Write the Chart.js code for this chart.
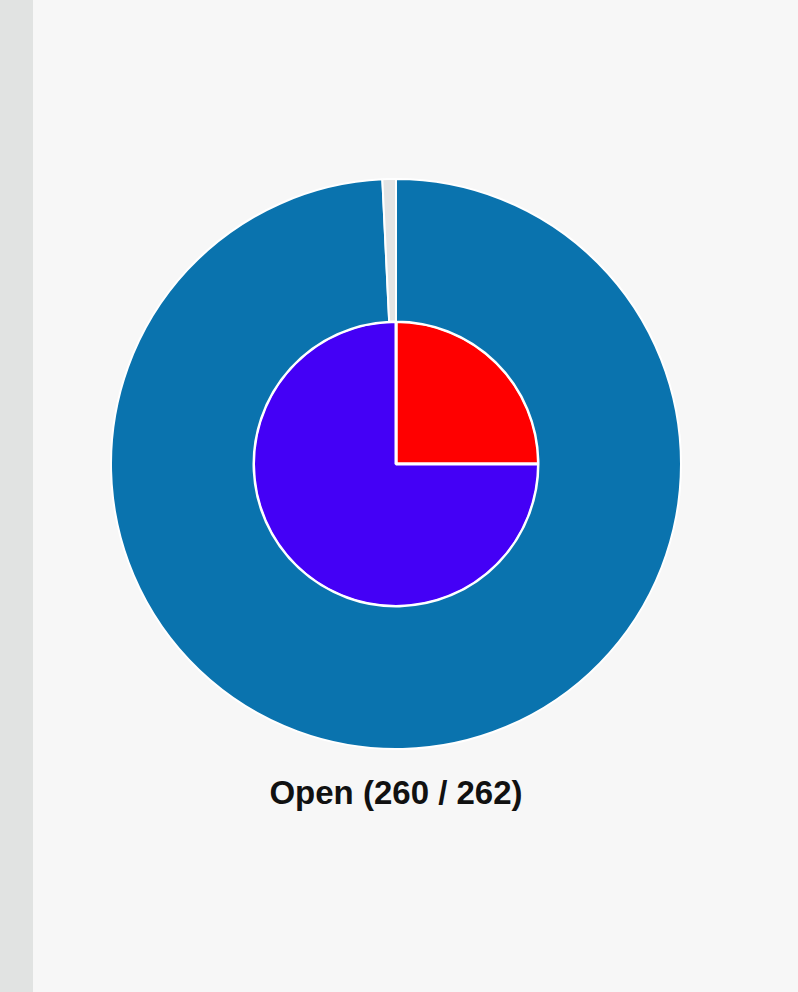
<!DOCTYPE html>
<html>
<head>
<meta charset="utf-8">
<script src="https://cdn.jsdelivr.net/npm/chart.js@4/dist/chart.umd.min.js"></script>
<style>
  html, body { margin:0; padding:0; width:798px; height:992px; background:#f7f7f7; overflow:hidden }
  .strip { position:absolute; left:0; top:0; width:33px; height:992px; background:#e1e3e2 }
  .wrap  { position:absolute; left:33px; top:178px; width:726px; height:572px }
  .lbl   { position:absolute; left:33px; width:726px; top:774px; text-align:center;
           font:bold 33px "Liberation Sans", Arial, sans-serif; color:#111 }
</style>
</head>
<body>
<div class="strip"></div>
<div class="wrap"><canvas id="pie"></canvas></div>
<div class="lbl" id="lbl"></div>
<script>
// ── data ──
const outerLabels = ['Open', 'Other']
const outerValues = [260, 2]
const innerLabels = ['A', 'B']
const innerValues = [25, 75]

const outerColors = ['#0a73ae', '#e4e4e4']
const innerColors = ['#ff0000', '#4400f6']

document.getElementById('lbl').textContent =
  `Open (${outerValues[0]} / ${outerValues[0] + outerValues[1]})`

new Chart(document.getElementById('pie'), {
  type: 'doughnut',
  data: {
    labels: outerLabels,
    datasets: [
      { data: outerValues, backgroundColor: outerColors, borderColor: '#ffffff', borderWidth: 2 },
      { data: innerValues, labels: innerLabels, backgroundColor: innerColors, borderColor: '#ffffff', borderWidth: 3 },
    ]
  },
  options: {
    responsive: true, maintainAspectRatio: false, animation: false,
    cutout: 0,
    layout: { padding: 0 },
    plugins: { legend: { display: false }, tooltip: { enabled: false } },
  },
})
</script>
</body>
</html>
